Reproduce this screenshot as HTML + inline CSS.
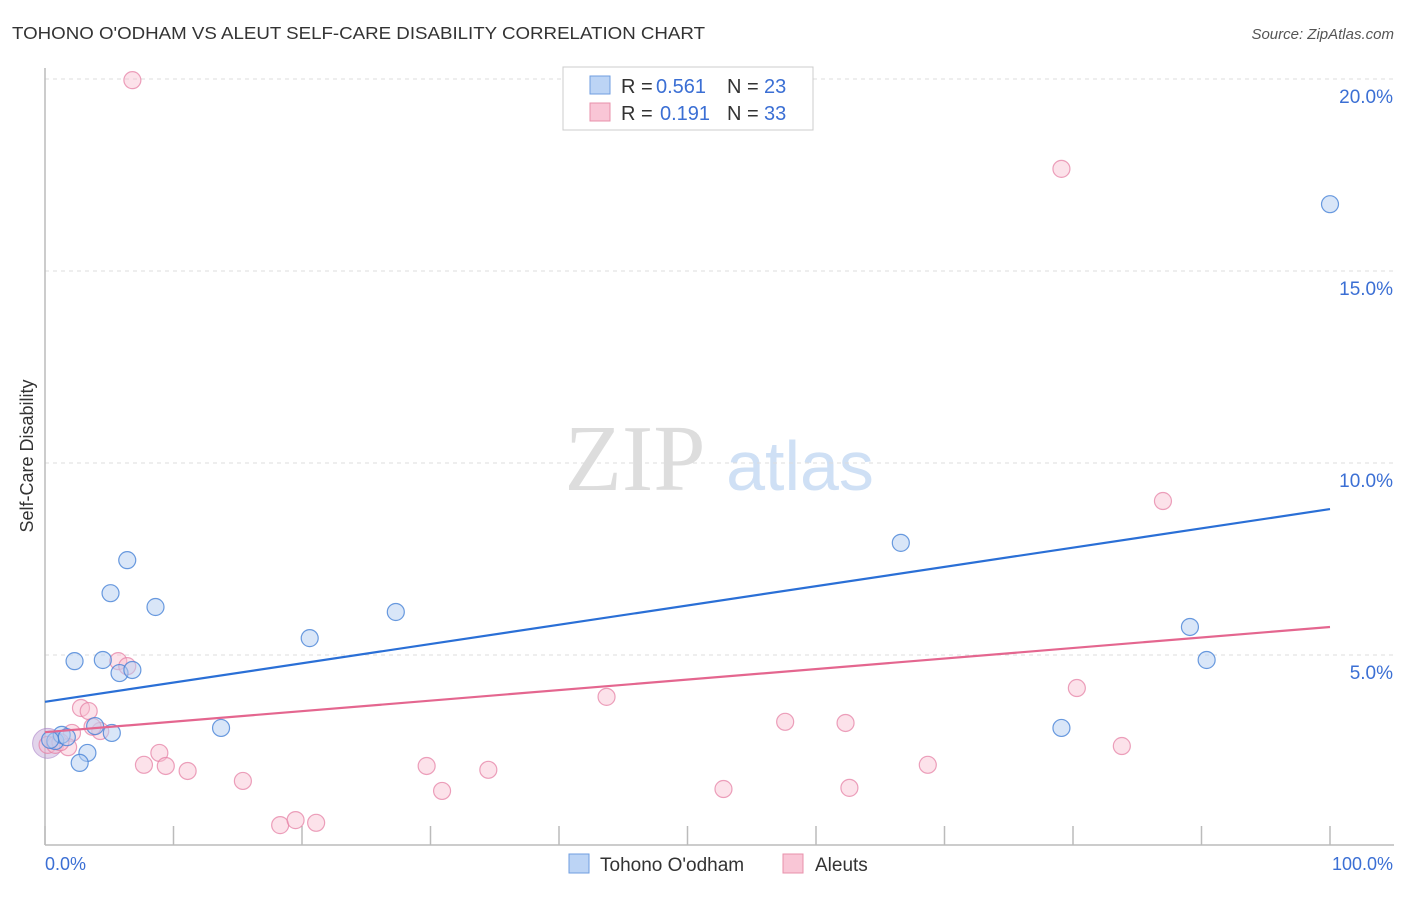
<!DOCTYPE html>
<html><head><meta charset="utf-8"><style>
body{margin:0;background:#fff;font-family:"Liberation Sans",sans-serif}
</style></head><body>
<svg width="1406" height="892" viewBox="0 0 1406 892" xmlns="http://www.w3.org/2000/svg">
<text x="12" y="39" font-size="17.5" fill="#333" textLength="693" lengthAdjust="spacingAndGlyphs">TOHONO O'ODHAM VS ALEUT SELF-CARE DISABILITY CORRELATION CHART</text>
<text x="1394" y="39" font-size="15" fill="#555" font-style="italic" text-anchor="end">Source: ZipAtlas.com</text>
<g>
<text x="635" y="490" font-size="94" fill="#ddd" font-family="Liberation Serif,serif" text-anchor="middle">ZIP</text>
<text x="800" y="490" font-size="70" fill="#cfe0f5" text-anchor="middle">atlas</text>
</g>
<g id="grid"></g>
<line x1="45" y1="68" x2="45" y2="845" stroke="#bbb" stroke-width="1.5"/>
<line x1="45" y1="845" x2="1394" y2="845" stroke="#bbb" stroke-width="1.5"/>
<g id="xticks"></g>
<text x="33" y="456" font-size="18" fill="#333" text-anchor="middle" transform="rotate(-90 33 456)">Self-Care Disability</text>
<text x="45" y="870" font-size="18" fill="#3b6fd4">0.0%</text>
<text x="1393" y="870" font-size="18" fill="#3b6fd4" text-anchor="end">100.0%</text>
<g id="pts"></g>
<g id="lines"></g>
<g>
<rect x="563" y="67" width="250" height="63" fill="#fff" stroke="#ccc"/>
<rect x="590" y="76" width="20" height="18" fill="#bcd4f5" stroke="#6f9ee0"/>
<rect x="590" y="103" width="20" height="18" fill="#f9c6d6" stroke="#e890ab"/>
<text y="93" font-size="20" fill="#333"><tspan x="621">R =</tspan><tspan x="656" fill="#3b6fd4">0.561</tspan><tspan x="727">N =</tspan><tspan x="764" fill="#3b6fd4">23</tspan></text>
<text y="120" font-size="20" fill="#333"><tspan x="621">R =</tspan><tspan x="660" fill="#3b6fd4">0.191</tspan><tspan x="727">N =</tspan><tspan x="764" fill="#3b6fd4">33</tspan></text>
</g>
<g>
<rect x="569" y="854" width="20" height="19" fill="#bcd4f5" stroke="#6f9ee0"/>
<text x="600" y="871" font-size="19" fill="#333">Tohono O'odham</text>
<rect x="783" y="854" width="20" height="19" fill="#f9c6d6" stroke="#e890ab"/>
<text x="815" y="871" font-size="19" fill="#333">Aleuts</text>
</g>
</svg>
<script>
const yTicks=[5,10,15,20];
const yTickLabels=["5.0%","10.0%","15.0%","20.0%"];
const xTickVals=[0,10,20,30,40,50,60,70,80,90,100];
const blueX=[6.4,5.1,8.6,2.3,4.5,5.8,6.8,20.6,27.3,3.9,5.2,13.7,3.3,2.7,0.8,1.3,0.4,66.6,89.1,90.4,79.1,100,1.7];
const blueY=[7.47,6.61,6.25,4.84,4.87,4.53,4.61,5.44,6.12,3.15,2.97,3.10,2.45,2.19,2.76,2.92,2.79,7.92,5.73,4.87,3.10,16.74,2.86];
const pinkX=[6.8,79.1,87.0,80.3,43.7,57.6,62.3,83.8,68.7,62.6,52.8,5.7,6.4,2.8,3.4,4.3,3.7,2.1,8.9,7.7,9.4,11.1,15.4,29.7,34.5,30.9,18.3,19.5,21.1,0.2,0.8,1.8,1.2];
const pinkY=[19.97,17.66,9.01,4.14,3.91,3.26,3.23,2.63,2.14,1.54,1.51,4.84,4.71,3.62,3.54,3.02,3.13,2.97,2.45,2.14,2.11,1.98,1.72,2.11,2.01,1.46,0.57,0.70,0.63,2.66,2.66,2.60,2.73];
const blueLine=[3.78,8.80];
const pinkLine=[2.99,5.73];
const NS="http://www.w3.org/2000/svg";
const sx=v=>45+v*12.85, sy=v=>847-v*38.4;
function mk(t,a,p){const e=document.createElementNS(NS,t);for(const k in a)e.setAttribute(k,a[k]);p.appendChild(e);return e;}
const grid=document.getElementById('grid');
yTicks.forEach((v,i)=>{
 const l=mk('line',{x1:45,x2:1394,y1:sy(v),y2:sy(v),stroke:'#ddd','stroke-dasharray':'4 4'},grid);
 
 
 const t=mk('text',{x:1393,y:sy(v)+24,'font-size':19,fill:'#3b6fd4','text-anchor':'end'},grid);
 t.textContent=yTickLabels[i];
 
 
});
const xt=document.getElementById('xticks');
xTickVals.forEach(v=>{
 const l=mk('line',{x1:sx(v),x2:sx(v),y1:826,y2:845,stroke:'#bbb','stroke-width':1.5},xt);
 
 
});
const pts=document.getElementById('pts');
const big=mk('circle',{cx:sx(0.2),cy:sy(2.7),r:15,fill:'rgba(190,160,210,0.45)',stroke:'rgba(170,130,200,0.6)'},pts);


pinkX.forEach((x,i)=>{
 const c=mk('circle',{cx:sx(x),cy:sy(pinkY[i]),r:8.5,fill:'rgba(248,190,208,0.45)',stroke:'rgba(230,130,165,0.75)','stroke-width':1.2},pts);
 
 
});
blueX.forEach((x,i)=>{
 const c=mk('circle',{cx:sx(x),cy:sy(blueY[i]),r:8.5,fill:'rgba(180,206,242,0.5)',stroke:'rgba(70,130,215,0.8)','stroke-width':1.2},pts);
 
 
});
const lg=document.getElementById('lines');
const bl=mk('line',{x1:sx(0),x2:sx(100),y1:sy(blueLine[0]),y2:sy(blueLine[1]),stroke:'#2a6fd6','stroke-width':2.2},lg);


const pl=mk('line',{x1:sx(0),x2:sx(100),y1:sy(pinkLine[0]),y2:sy(pinkLine[1]),stroke:'#e4668f','stroke-width':2.2},lg);


</script>
</body></html>
